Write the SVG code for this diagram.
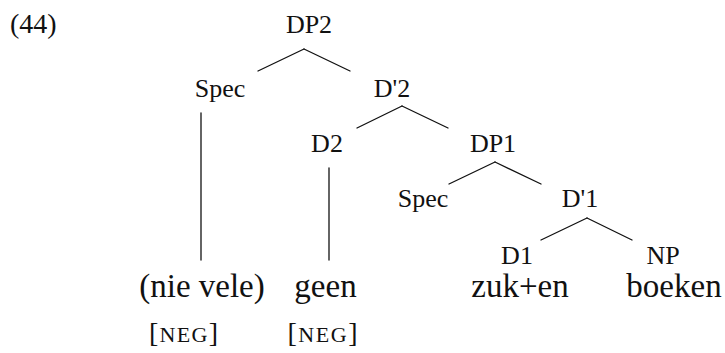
<svg xmlns="http://www.w3.org/2000/svg" width="725" height="353" viewBox="0 0 725 353">
<style>
text{font-family:"Liberation Serif","DejaVu Serif",serif;fill:#111;}
.n{font-size:26px;text-anchor:middle;}
.w{font-size:33px;text-anchor:middle;}
.f{font-size:28px;text-anchor:middle;}
.sc{font-size:22px;}
.e line{stroke:#111;stroke-width:1.3;stroke-linecap:round;}
</style>
<rect width="725" height="353" fill="#fff"/>
<text x="10" y="33" style="font-size:28px">(44)</text>
<g class="e" id="connectors">
<line x1="304" y1="49" x2="258" y2="71"/>
<line x1="304" y1="49" x2="350" y2="71"/>
<line x1="201" y1="113" x2="201" y2="260"/>
<line x1="402" y1="106" x2="357" y2="128"/>
<line x1="402" y1="106" x2="448" y2="128"/>
<line x1="329" y1="168" x2="329" y2="260"/>
<line x1="495" y1="162" x2="449" y2="184"/>
<line x1="495" y1="162" x2="541" y2="184"/>
<line x1="587" y1="218" x2="541" y2="240"/>
<line x1="587" y1="218" x2="632" y2="240"/>
</g>
<g id="DP2"><text class="n" x="309" y="33">DP2</text></g>
<g id="Spec2"><text class="n" x="220" y="97">Spec</text></g>
<g id="Dbar2"><text class="n" x="392" y="97">D'2</text></g>
<g id="D2"><text class="n" x="327" y="152">D2</text></g>
<g id="DP1"><text class="n" x="493" y="152">DP1</text></g>
<g id="Spec1"><text class="n" x="423" y="207">Spec</text></g>
<g id="Dbar1"><text class="n" x="580" y="207">D'1</text></g>
<g id="D1"><text class="n" x="517" y="264">D1</text></g>
<g id="NP"><text class="n" x="663" y="264">NP</text></g>
<g id="nievele"><text class="w" x="202" y="297">(nie vele)</text></g>
<g id="geen"><text class="w" x="325.5" y="297">geen</text></g>
<g id="zuken"><text class="w" x="520" y="297">zuk+en</text></g>
<g id="boeken"><text class="w" x="674" y="297">boeken</text></g>
<g id="neg1"><text class="f" x="183.5" y="342" textLength="69" lengthAdjust="spacing">[<tspan class="sc">NEG</tspan>]</text></g>
<g id="neg2"><text class="f" x="322.5" y="342" textLength="70" lengthAdjust="spacing">[<tspan class="sc">NEG</tspan>]</text></g>
</svg>
